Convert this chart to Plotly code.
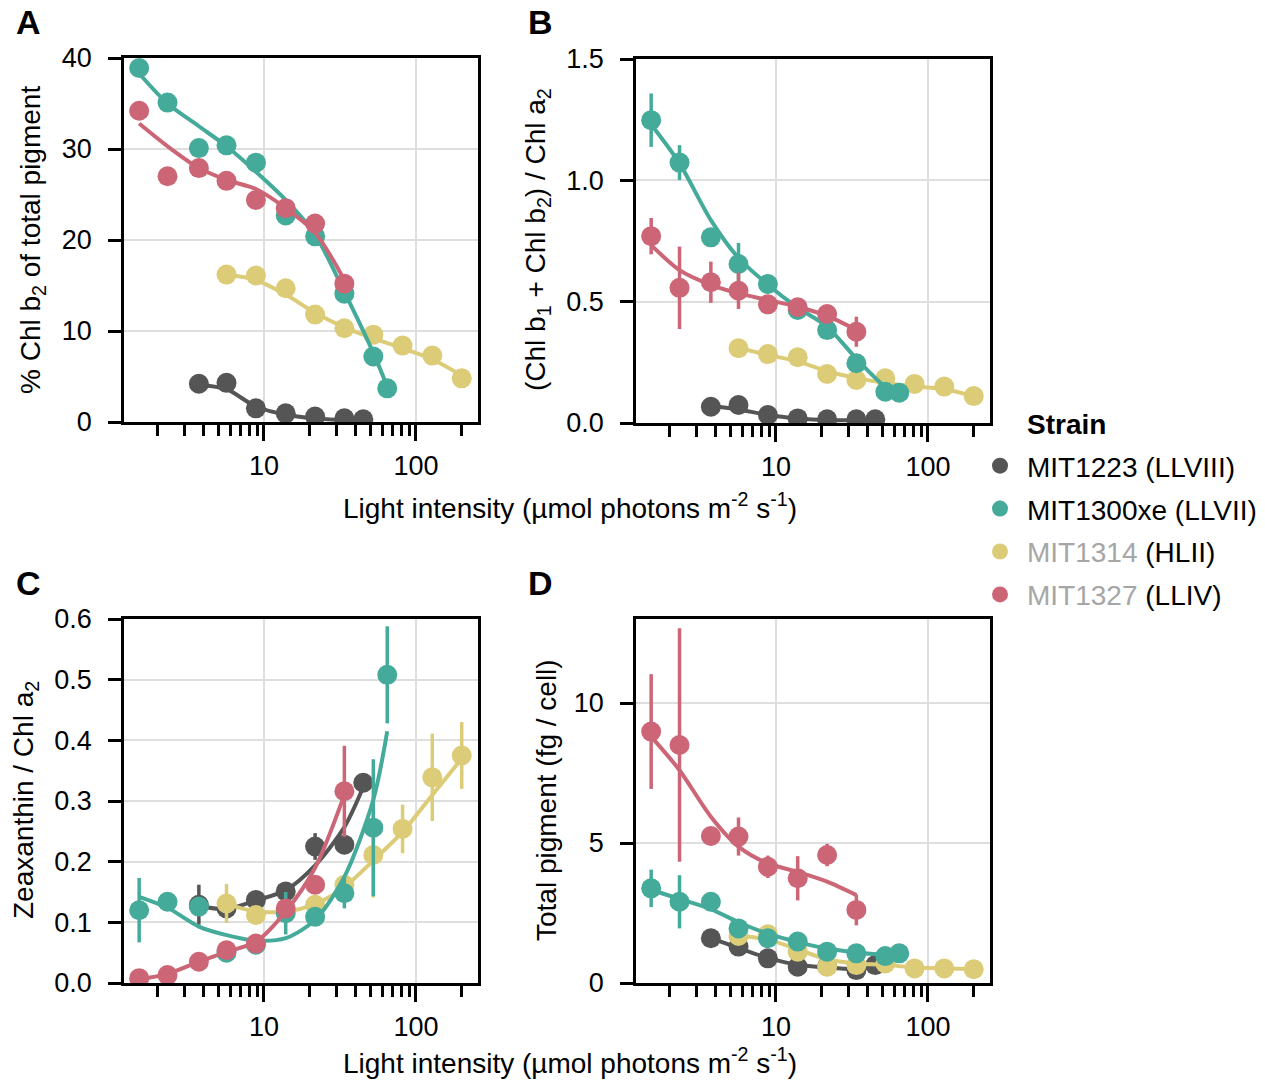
import math
import plotly.graph_objects as go

W, H = 1265, 1080
FONT = "Liberation Sans, Arial, Helvetica, sans-serif"

# ---------------- data ----------------
strains = ["MIT1223 (LLVIII)", "MIT1300xe (LLVII)", "MIT1314 (HLII)", "MIT1327 (LLIV)"]
legend_labels = [
    "MIT1223 (LLVIII)",
    "MIT1300xe (LLVII)",
    '<span style="color:#a6a6a6">MIT1314</span> (HLII)',
    '<span style="color:#a6a6a6">MIT1327</span> (LLIV)',
]
colors = ["#555555", "#44AA99", "#DDCC77", "#CC6677"]

gray_x = [3.73, 5.67, 8.85, 13.9, 21.7, 33.8, 45.0]
teal_x = [1.51, 2.32, 3.73, 5.67, 8.85, 13.9, 21.7, 33.8, 52.4, 64.7]
yellow_x = [5.67, 8.85, 13.9, 21.7, 33.8, 52.4, 81.6, 128, 200]
red_x = [1.51, 2.32, 3.73, 5.67, 8.85, 13.9, 21.7, 33.8]

# Panel A: % Chl b2 of total pigment
A_gray = [4.2, 4.3, 1.5, 0.95, 0.6, 0.4, 0.3]
A_teal = [38.9, 35.1, 30.1, 30.4, 28.5, 22.7, 20.4, 14.1, 7.2, 3.7]
A_yellow = [16.2, 16.1, 14.7, 11.8, 10.3, 9.6, 8.4, 7.3, 4.8]
A_red = [34.2, 27.0, 27.9, 26.5, 24.4, 23.5, 21.8, 15.2]
A_gray_fit = [4.1, 3.6, 1.7, 0.8, 0.4, 0.2, 0.2]
A_teal_fit = [38.3, 35.0, 32.5, 30.3, 27.5, 24.4, 20.6, 14.3, 7.6, 3.9]
A_yellow_fit = [16.2, 15.6, 14.0, 12.0, 10.4, 9.2, 8.1, 6.9, 5.1]
A_red_fit = [32.8, 30.3, 27.9, 26.6, 25.6, 23.5, 20.8, 15.6]

# Panel B: (Chl b1 + Chl b2) / Chl a2
B_gray = [0.067, 0.074, 0.033, 0.019, 0.015, 0.015, 0.015]
B_teal = [1.248, 1.073, 0.765, 0.655, 0.573, 0.466, 0.383, 0.246, 0.129, 0.125]
B_teal_err = [0.11, 0.072, 0, 0.087, 0, 0, 0, 0, 0, 0]
B_yellow = [0.308, 0.284, 0.271, 0.202, 0.177, 0.184, 0.161, 0.150, 0.111]
B_red = [0.770, 0.557, 0.580, 0.545, 0.489, 0.477, 0.449, 0.376]
B_red_err = [0.075, 0.17, 0.085, 0.075, 0, 0, 0, 0.062]
B_gray_fit = [0.07, 0.056, 0.033, 0.019, 0.012, 0.012, 0.012]
B_teal_fit = [1.23, 1.07, 0.836, 0.68, 0.57, 0.475, 0.397, 0.265, 0.149, 0.12]
B_yellow_fit = [0.31, 0.28, 0.254, 0.213, 0.186, 0.165, 0.151, 0.14, 0.11]
B_red_fit = [0.733, 0.63, 0.569, 0.534, 0.507, 0.479, 0.441, 0.383]

# Panel C: Zeaxanthin / Chl a2
C_gray = [0.129, 0.123, 0.137, 0.151, 0.225, 0.228, 0.330]
C_gray_err = [0.033, 0, 0.01, 0.01, 0.022, 0, 0.012]
C_teal = [0.120, 0.134, 0.126, 0.050, 0.063, 0.115, 0.109, 0.148, 0.256, 0.508]
C_teal_err = [0.053, 0, 0, 0, 0, 0.035, 0, 0.025, 0.113, 0.08]
C_yellow = [0.131, 0.112, 0.12, 0.129, 0.162, 0.211, 0.254, 0.339, 0.375]
C_yellow_err = [0.032, 0, 0, 0, 0.012, 0.07, 0.04, 0.072, 0.055]
C_red = [0.008, 0.013, 0.035, 0.054, 0.065, 0.123, 0.162, 0.316]
C_red_err = [0, 0, 0, 0, 0, 0, 0, 0.075]
C_gray_fit = [0.127, 0.122, 0.136, 0.153, 0.194, 0.257, 0.323]
C_teal_fit = [0.142, 0.124, 0.093, 0.079, 0.070, 0.074, 0.104, 0.175, 0.302, 0.415]
C_yellow_fit = [0.13, 0.118, 0.118, 0.130, 0.158, 0.202, 0.249, 0.31, 0.37]
C_red_fit = [0.006, 0.015, 0.035, 0.051, 0.068, 0.118, 0.19, 0.31]

# Panel D: Total pigment (fg / cell)
D_gray = [1.6, 1.3, 0.88, 0.58, 0.6, 0.46, 0.64]
D_teal = [3.38, 2.9, 2.9, 1.95, 1.6, 1.48, 1.12, 1.06, 0.96, 1.06]
D_teal_err = [0.67, 0.95, 0, 0, 0, 0, 0, 0, 0, 0]
D_yellow = [1.68, 1.74, 1.12, 0.58, 0.64, 0.70, 0.52, 0.52, 0.49]
D_red = [8.98, 8.5, 5.25, 5.23, 4.15, 3.74, 4.57, 2.61]
D_red_err = [2.05, 4.17, 0, 0.68, 0.4, 0.79, 0.4, 0.55]
D_gray_fit = [1.6, 1.25, 0.9, 0.65, 0.55, 0.5, 0.6]
D_teal_fit = [3.33, 3.0, 2.64, 2.17, 1.76, 1.46, 1.23, 1.09, 1.02, 1.1]
D_yellow_fit = [1.7, 1.55, 1.2, 0.85, 0.7, 0.65, 0.55, 0.52, 0.5]
D_red_fit = [8.8, 7.6, 5.94, 4.87, 4.27, 3.97, 3.62, 3.14]

xs = [gray_x, teal_x, yellow_x, red_x]
panels = {
    "A": dict(y=[A_gray, A_teal, A_yellow, A_red],
              fit=[A_gray_fit, A_teal_fit, A_yellow_fit, A_red_fit],
              err=[None, None, None, None]),
    "B": dict(y=[B_gray, B_teal, B_yellow, B_red],
              fit=[B_gray_fit, B_teal_fit, B_yellow_fit, B_red_fit],
              err=[None, B_teal_err, None, B_red_err]),
    "C": dict(y=[C_gray, C_teal, C_yellow, C_red],
              fit=[C_gray_fit, C_teal_fit, C_yellow_fit, C_red_fit],
              err=[C_gray_err, C_teal_err, C_yellow_err, C_red_err]),
    "D": dict(y=[D_gray, D_teal, D_yellow, D_red],
              fit=[D_gray_fit, D_teal_fit, D_yellow_fit, D_red_fit],
              err=[None, D_teal_err, None, D_red_err]),
}
draw_order = [0, 2, 1, 3]  # gray, yellow, teal, red

# ---------------- layout geometry (pixels) ----------------
boxes = {
    "A": (124, 478, 58, 422),
    "B": (636, 990, 59, 423),
    "C": (124, 478, 619, 983),
    "D": (636, 990, 619, 983),
}
axis_ids = {"A": ("x", "y"), "B": ("x2", "y2"), "C": ("x3", "y3"), "D": ("x4", "y4")}

yspec = {
    "A": dict(range=[0, 40], tickvals=[0, 10, 20, 30, 40], ticktext=["0", "10", "20", "30", "40"]),
    "B": dict(range=[0, 1.5], tickvals=[0, 0.5, 1.0, 1.5], ticktext=["0.0", "0.5", "1.0", "1.5"]),
    "C": dict(range=[0, 0.6], tickvals=[0, 0.1, 0.2, 0.3, 0.4, 0.5, 0.6],
              ticktext=["0.0", "0.1", "0.2", "0.3", "0.4", "0.5", "0.6"]),
    "D": dict(range=[0, 13], tickvals=[0, 5, 10], ticktext=["0", "5", "10"]),
}

fig = go.Figure()

for key, pdata in panels.items():
    xa, ya = axis_ids[key]
    for i in draw_order:
        col = colors[i]
        fig.add_trace(go.Scatter(
            x=xs[i], y=pdata["fit"][i], mode="lines",
            line=dict(color=col, width=4, shape="spline", smoothing=0.8),
            xaxis=xa, yaxis=ya, showlegend=False, hoverinfo="skip"))
        err = pdata["err"][i]
        fig.add_trace(go.Scatter(
            x=xs[i], y=pdata["y"][i], mode="markers",
            marker=dict(color=col, size=20, line=dict(width=0)),
            error_y=(dict(type="data", array=err, visible=True, color=col,
                          thickness=3.5, width=0) if err is not None else None),
            xaxis=xa, yaxis=ya, showlegend=False, name=strains[i]))

# legend entries
for i in range(4):
    fig.add_trace(go.Scatter(
        x=[None], y=[None], mode="markers", name=legend_labels[i],
        legendgroup="g%d" % i,
        marker=dict(color=colors[i], size=20), showlegend=True,
        xaxis="x", yaxis="y"))

lo, hi = math.log10(1.2), 2.408
minor_vals = [2, 3, 4, 5, 6, 7, 8, 9, 20, 30, 40, 50, 60, 70, 80, 90, 200]

layout_axes = {}
for key, (x0, x1, y0, y1) in boxes.items():
    xa, ya = axis_ids[key]
    xname = "xaxis" + xa[1:]
    yname = "yaxis" + ya[1:]
    layout_axes[xname] = dict(
        type="log", range=[lo, hi], domain=[x0 / W, x1 / W], anchor=ya,
        tickvals=[10, 100], ticktext=["10", "100"],
        ticks="outside", ticklen=16, tickwidth=3, tickcolor="black",
        ticklabelstandoff=2, automargin=False,
        showline=True, linecolor="black", linewidth=2.5, mirror=True,
        showgrid=True, gridcolor="#dedede", gridwidth=2,
        minor=dict(tickvals=minor_vals, ticks="outside", ticklen=11,
                   tickwidth=3, tickcolor="black", showgrid=False),
        zeroline=False,
        tickfont=dict(family=FONT, size=27, color="black"),
    )
    ys = yspec[key]
    layout_axes[yname] = dict(
        range=ys["range"], tickvals=ys["tickvals"], ticktext=ys["ticktext"],
        domain=[1 - y1 / H, 1 - y0 / H], anchor=xa,
        ticks="outside", ticklen=13, tickwidth=3, tickcolor="black",
        ticklabelstandoff=11, automargin=False,
        showline=True, linecolor="black", linewidth=2.5, mirror=True,
        showgrid=True, gridcolor="#dedede", gridwidth=2, zeroline=False,
        tickfont=dict(family=FONT, size=27, color="black"),
    )

annotations = []

def px_ann(text, x, y, size=28, angle=0, bold=False, xanchor="center", yanchor="middle"):
    annotations.append(dict(
        text=("<b>%s</b>" % text) if bold else text,
        x=x / W, y=1 - y / H, xref="paper", yref="paper",
        showarrow=False, textangle=angle, xanchor=xanchor, yanchor=yanchor,
        font=dict(family=FONT, size=size, color="black")))

# panel labels
px_ann("A", 28, 22, size=34, bold=True)
px_ann("B", 540, 22, size=34, bold=True)
px_ann("C", 28, 583, size=34, bold=True)
px_ann("D", 540, 583, size=34, bold=True)

xtitle = "Light intensity (µmol photons m<sup>-2</sup> s<sup>-1</sup>)"
px_ann(xtitle, 570, 506)
px_ann(xtitle, 570, 1061)

px_ann("% Chl b<sub>2</sub> of total pigment", 32, 240, angle=-90)
px_ann("(Chl b<sub>1</sub> + Chl b<sub>2</sub>) / Chl a<sub>2</sub>", 537, 240, angle=-90)
px_ann("Zeaxanthin / Chl a<sub>2</sub>", 25, 800, angle=-90)
px_ann("Total pigment (fg / cell)", 546, 800, angle=-90)

# legend title
px_ann("Strain", 1025, 424, bold=True, xanchor="left")

fig.update_layout(
    width=W, height=H,
    margin=dict(l=0, r=0, t=0, b=0, pad=0, autoexpand=False),
    paper_bgcolor="white", plot_bgcolor="white",
    font=dict(family=FONT, size=28, color="black"),
    showlegend=True,
    legend=dict(
        x=973 / W, y=1 - 441 / H, xanchor="left", yanchor="top",
        font=dict(family=FONT, size=28, color="black"),
        bgcolor="rgba(0,0,0,0)", tracegroupgap=3.5, itemwidth=44,
    ),
    annotations=annotations,
    **layout_axes,
)

fig.write_html("out.html")
